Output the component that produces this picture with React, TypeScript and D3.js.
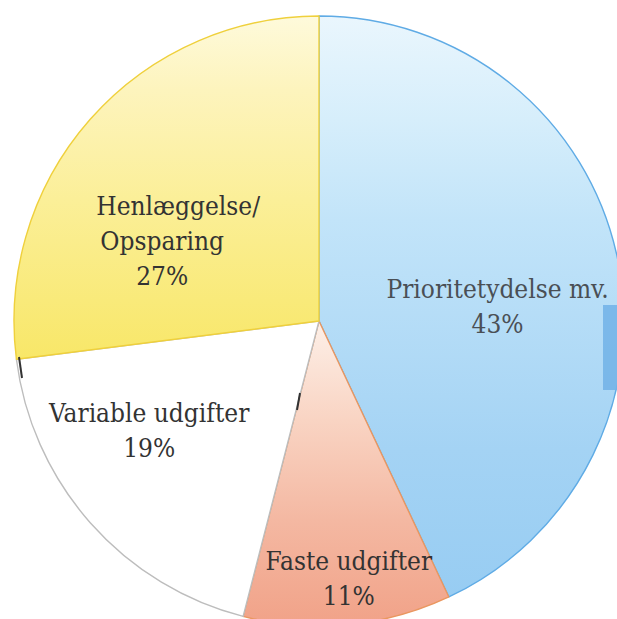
import { useEffect } from "react";
import * as d3 from "d3";

// Budget split (scanned pie chart), clockwise from 12 o'clock
const categories = [
    "Prioritetydelse mv.",
    "Faste udgifter",
    "Variable udgifter",
    "Henlæggelse/Opsparing",
];
const shares = [43, 11, 19, 27];
const labelLines = [
    ["Prioritetydelse mv.", "43%"],
    ["Faste udgifter", "11%"],
    ["Variable udgifter", "19%"],
    ["Henlæggelse/", "Opsparing", "27%"],
];

const W = 617;
const H = 619;
const cx = 319;
const cy = 321;
const R = 305;

// gradient stops as [y in px, colour], top to bottom
const blueStops: [number, string][] = [
    [16, "#eaf6fd"],
    [120, "#d6eefb"],
    [220, "#c2e4f9"],
    [450, "#a4d3f4"],
    [626, "#95cbf2"],
];
const yellowStops: [number, string][] = [
    [16, "#fefadb"],
    [90, "#fdf4bd"],
    [200, "#fbef98"],
    [300, "#f9ea7a"],
    [360, "#f8e768"],
];
const salmonStops: [number, string][] = [
    [321, "#fdf0e8"],
    [420, "#f9d4c3"],
    [520, "#f4b8a2"],
    [626, "#f1a288"],
];
const whiteStops: [number, string][] = [
    [16, "#ffffff"],
    [626, "#ffffff"],
];

const sliceStyle = [
    { id: "gradBlue", stops: blueStops, stroke: "#5fabe5" },
    { id: "gradSalmon", stops: salmonStops, stroke: "#ea9760" },
    { id: "gradWhite", stops: whiteStops, stroke: "#bdbdbd" },
    { id: "gradYellow", stops: yellowStops, stroke: "#efd03c" },
];
// small nudges of the label block from the arc centroid
const labelNudge = [
    [-6, 18],
    [12, 61],
    [-28, -24],
    [-15, 19],
];
const lineNudge = [[0, 0], [0, 0], [0, 0], [16, 0, 0]];

const serif = "'DejaVu Serif Condensed', 'DejaVu Serif', serif";

export default function App() {
    useEffect(() => {
        document.body.style.margin = "0";
    }, []);

    const pie = d3
        .pie<number>()
        .sort(null)
        .value((d) => d)
        .startAngle(0)
        .endAngle(2 * Math.PI);
    const arcs = pie(shares);
    const arc = d3.arc<d3.PieArcDatum<number>>().innerRadius(0).outerRadius(R);
    const labelArc = d3
        .arc<d3.PieArcDatum<number>>()
        .innerRadius(R * 0.62)
        .outerRadius(R * 0.62);

    const fontSize = 26;
    const lineH = 35;

    return (
        <svg
            width={W}
            height={H}
            viewBox={`0 0 ${W} ${H}`}
            style={{ display: "block", background: "#fff" }}
        >
            <defs>
                {sliceStyle.map((s) => {
                    const y0 = s.stops[0][0];
                    const y1 = s.stops[s.stops.length - 1][0];
                    // gradient is in the slice's own (centred) coordinates
                    return (
                        <linearGradient
                            key={s.id}
                            id={s.id}
                            gradientUnits="userSpaceOnUse"
                            x1="0"
                            y1={String(y0 - cy)}
                            x2="0"
                            y2={String(y1 - cy)}
                        >
                            {s.stops.map(([y, c], k) => (
                                <stop
                                    key={k}
                                    offset={`${(((y - y0) / (y1 - y0)) * 100).toFixed(1)}%`}
                                    stopColor={c}
                                />
                            ))}
                        </linearGradient>
                    );
                })}
            </defs>
            <g transform={`translate(${cx},${cy})`}>
                {arcs.map((a, i) => (
                    <path
                        key={categories[i]}
                        d={arc(a) ?? ""}
                        fill={`url(#${sliceStyle[i].id})`}
                        stroke={sliceStyle[i].stroke}
                        strokeWidth={1.4}
                        strokeLinejoin="round"
                    />
                ))}
                {arcs.map((a, i) => {
                    const [x, y] = labelArc.centroid(a);
                    const [nx, ny] = labelNudge[i];
                    return (
                        <text
                            key={`l-${i}`}
                            transform={`translate(${x + nx},${y + ny})`}
                            textAnchor="middle"
                            fontFamily={serif}
                            fontStretch="condensed"
                            fontSize={fontSize}
                            fill={i === 0 ? "#4a4f55" : "#333"}
                        >
                            {labelLines[i].map((t, j) => (
                                <tspan
                                    key={j}
                                    x={lineNudge[i][j] ?? 0}
                                    y={j * lineH}
                                >
                                    {t}
                                </tspan>
                            ))}
                        </text>
                    );
                })}
            </g>
            {/* scan artefacts */}
            <rect x={603} y={305} width={14} height={85} fill="#74b4e8" opacity={0.9} />
            <line x1={19} y1={357} x2={22} y2={378} stroke="#333" strokeWidth={2} />
            <line x1={300} y1={393} x2={297} y2={410} stroke="#333" strokeWidth={2} />
        </svg>
    );
}
